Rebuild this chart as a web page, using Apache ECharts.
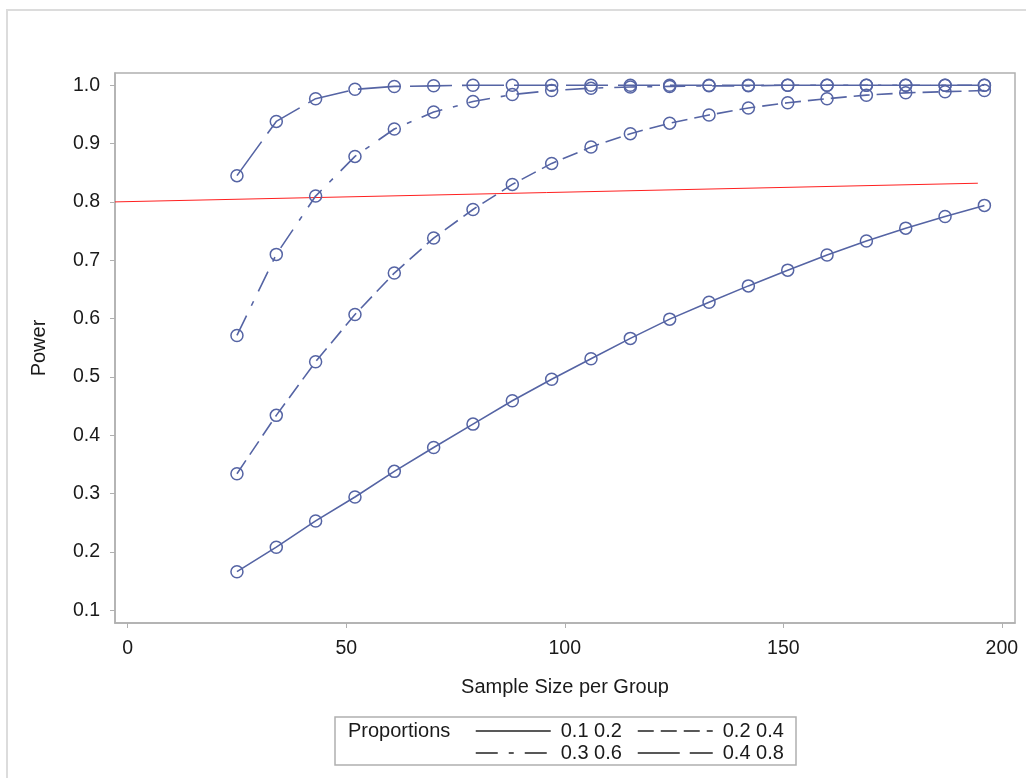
<!DOCTYPE html>
<html>
<head>
<meta charset="utf-8">
<script src="https://cdn.jsdelivr.net/npm/echarts@6/dist/echarts.min.js"></script>
<style>
  html, body { margin: 0; padding: 0; background: #fff; }
  #chart { width: 1026px; height: 778px; }
</style>
</head>
<body>
<div id="chart"></div>
<script>
// sample size per group (x)
const sampleSizes = [25, 34, 43, 52, 61, 70, 79, 88, 97, 106, 115, 124, 133, 142, 151, 160, 169, 178, 187, 196];
// power for each pair of proportions
const power_01_02 = [0.166, 0.208, 0.253, 0.294, 0.338, 0.379, 0.419, 0.459, 0.496, 0.531, 0.566, 0.599, 0.628, 0.656, 0.683, 0.709, 0.733, 0.755, 0.775, 0.794];
const power_02_04 = [0.334, 0.434, 0.526, 0.607, 0.678, 0.738, 0.787, 0.830, 0.866, 0.894, 0.917, 0.935, 0.949, 0.961, 0.970, 0.977, 0.983, 0.987, 0.989, 0.991];
const power_03_06 = [0.571, 0.710, 0.810, 0.878, 0.925, 0.954, 0.972, 0.984, 0.991, 0.995, 0.997, 0.998, 0.999, 0.999, 1.0, 1.0, 1.0, 1.0, 1.0, 1.0];
const power_04_08 = [0.845, 0.938, 0.977, 0.993, 0.998, 0.999, 1.0, 1.0, 1.0, 1.0, 1.0, 1.0, 1.0, 1.0, 1.0, 1.0, 1.0, 1.0, 1.0, 1.0];
const seriesNames = ["0.1 0.2", "0.2 0.4", "0.3 0.6", "0.4 0.8"];
// red reference line (target power 0.8)
const refX = [-2.9, 194.5];
const refY = [0.800, 0.832];
const xTicks = [0, 50, 100, 150, 200];
const yTicks = [0.1, 0.2, 0.3, 0.4, 0.5, 0.6, 0.7, 0.8, 0.9, 1.0];

const FONT = "Liberation Sans, Arial, sans-serif";
const LINE_COLOR = "#5564a4";
const AXIS_COLOR = "#b0b0b0";
const TEXT_COLOR = "#1a1a1a";
const dashes = ["solid", [16, 7], [22, 11, 5, 11], [42, 10]];

var chart = echarts.init(document.getElementById("chart"));

function pairs(ys) {
  return sampleSizes.map((x, i) => [x, ys[i]]);
}

var powerData = [power_01_02, power_02_04, power_03_06, power_04_08];

var series = powerData.map((ys, i) => ({
  name: seriesNames[i],
  type: "line",
  data: pairs(ys),
  symbol: "circle",
  symbolSize: 12,
  showSymbol: true,
  itemStyle: { color: "rgba(0,0,0,0)", borderColor: LINE_COLOR, borderWidth: 1.5 },
  lineStyle: { color: LINE_COLOR, width: 1.6, type: dashes[i] },
  animation: false
}));

series.push({
  name: "ref",
  type: "line",
  data: refX.map((x, i) => [x, refY[i]]),
  symbol: "none",
  lineStyle: { color: "#ff2020", width: 1 },
  z: 1,
  animation: false
});

// two legend columns inside one framed box
function legendColumn(names, left) {
  return {
    data: names,
    orient: "vertical",
    left: left,
    top: 721,
    padding: 0,
    itemGap: 2,
    itemWidth: 75,
    itemHeight: 14,
    textStyle: { fontSize: 20, color: TEXT_COLOR, fontFamily: FONT, padding: [0, 0, 0, 5] },
    itemStyle: { opacity: 0 },
    lineStyle: { color: "#222", width: 1.5 },
    selectedMode: false
  };
}

chart.setOption({
  backgroundColor: "#fff",
  textStyle: { fontFamily: FONT },
  grid: {
    left: 115,
    right: 11,
    top: 73,
    bottom: 155,
    show: true,
    borderColor: AXIS_COLOR,
    borderWidth: 1.5
  },
  xAxis: {
    type: "value",
    min: -2.9,
    max: 203,
    name: "Sample Size per Group",
    nameLocation: "middle",
    nameGap: 54,
    nameTextStyle: { fontSize: 20, color: TEXT_COLOR, fontFamily: FONT },
    axisLine: { show: true, onZero: false, lineStyle: { color: AXIS_COLOR, width: 1.5 } },
    axisTick: { show: true, length: 5, lineStyle: { color: AXIS_COLOR }, customValues: xTicks },
    axisLabel: { fontSize: 19.5, color: TEXT_COLOR, margin: 16, customValues: xTicks },
    splitLine: { show: false }
  },
  yAxis: {
    type: "value",
    min: 0.078,
    max: 1.021,
    name: "Power",
    nameLocation: "middle",
    nameGap: 66,
    nameTextStyle: { fontSize: 20, color: TEXT_COLOR, fontFamily: FONT },
    axisLine: { show: true, onZero: false, lineStyle: { color: AXIS_COLOR, width: 1.5 } },
    axisTick: { show: true, length: 5, lineStyle: { color: AXIS_COLOR }, customValues: yTicks },
    axisLabel: {
      fontSize: 19.5,
      color: TEXT_COLOR,
      margin: 15,
      customValues: yTicks,
      formatter: v => v.toFixed(1)
    },
    splitLine: { show: false }
  },
  legend: [
    legendColumn([seriesNames[0], seriesNames[2]], 475),
    legendColumn([seriesNames[1], seriesNames[3]], 637)
  ],
  graphic: [
    {
      type: "rect",
      shape: { x: 335, y: 717, width: 461, height: 48 },
      style: { stroke: AXIS_COLOR, lineWidth: 1.5, fill: null },
      silent: true
    },
    {
      type: "text",
      left: 348,
      top: 721,
      style: { text: "Proportions", fontSize: 20, fill: TEXT_COLOR, fontFamily: FONT }
    },
    {
      type: "polyline",
      shape: { points: [[7, 778], [7, 10], [1026, 10]] },
      style: { stroke: "#dcdcdc", lineWidth: 2, fill: null },
      silent: true
    }
  ],
  series: series
});

window.addEventListener("resize", () => chart.resize());
</script>
</body>
</html>
